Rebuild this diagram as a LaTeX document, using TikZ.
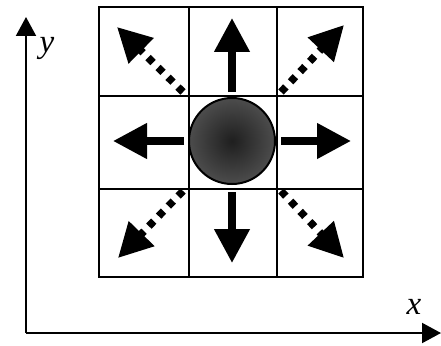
\documentclass[tikz,border=0pt]{standalone}
\usepackage{fontspec}
\setmainfont{Liberation Serif}
\usetikzlibrary{arrows.meta}
\tikzset{
  gridline/.style={line width=1.8pt, black},
  bigarrow/.style={line width=7.5pt, -{Triangle[length=34pt,width=34pt]}},
  dotarrow/.style={line width=7.5pt, dash pattern=on 7pt off 7pt, -{Triangle[length=34pt,width=34pt]}},
  axis/.style={line width=2pt, -{Triangle[length=19pt,width=20pt]}},
  lbl/.style={font=\fontsize{33}{33}\selectfont\itshape, inner sep=0pt}
}
\begin{document}
\begin{tikzpicture}[x=1pt,y=-1pt]
\useasboundingbox (0,0) rectangle (441,345);
% grid
\draw[gridline] (99,7) rectangle (363,277);
\draw[gridline] (189,7) -- (189,277);
\draw[gridline] (277,7) -- (277,277);
\draw[gridline] (99,96) -- (363,96);
\draw[gridline] (99,189) -- (363,189);
% circle
\node[circle, draw=black, line width=2pt, minimum size=86pt, inner sep=0pt,
      shading=radial, inner color=black!88, outer color=black!70] (c) at (232,141) {};
% coordinates
\coordinate (uS) at (232,92);  \coordinate (uT) at (232,18);
\coordinate (dS) at (232,192); \coordinate (dT) at (232,263);
\coordinate (lS) at (184,141); \coordinate (lT) at (113,141);
\coordinate (rS) at (281,141); \coordinate (rT) at (351,141);
\coordinate (ulS) at (183,92); \coordinate (ulT) at (117,27);
\coordinate (urS) at (281,92); \coordinate (urT) at (344,25);
\coordinate (dlS) at (183,191); \coordinate (dlT) at (118,258);
\coordinate (drS) at (281,191); \coordinate (drT) at (344,258);
\draw[bigarrow] (uS) -- (uT);
\draw[bigarrow] (dS) -- (dT);
\draw[bigarrow] (lS) -- (lT);
\draw[bigarrow] (rS) -- (rT);
\draw[dotarrow] (ulS) -- (ulT);
\draw[dotarrow] (urS) -- (urT);
\draw[dotarrow] (dlS) -- (dlT);
\draw[dotarrow] (drS) -- (drT);
% axes
\coordinate (o) at (26,333);
\coordinate (yT) at (26,17);
\coordinate (xT) at (441,333);
\draw[axis] (o) -- (yT);
\draw[axis] (o) -- (xT);
\node[lbl] (ylab) at (47,48) {y};
\node[lbl] (xlab) at (414,307) {x};
\end{tikzpicture}
\end{document}
